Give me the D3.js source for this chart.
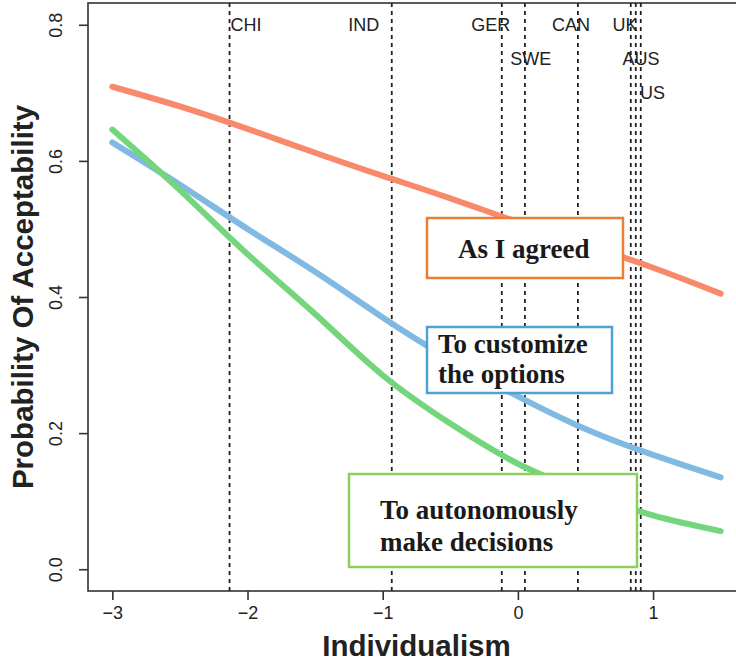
<!DOCTYPE html>
<html>
<head>
<meta charset="utf-8">
<script src="https://cdn.jsdelivr.net/npm/d3@7"></script>
<style>
  body { margin: 0; background: #fff; }
  svg { display: block; }
</style>
</head>
<body>
<div id="chart"></div>
<script>
// Data
var xGrid = [-3, -2.5, -2, -1.5, -1, -0.5, 0, 0.5, 1, 1.5];
var agreedVals = [0.709, 0.680, 0.647, 0.612, 0.578, 0.545, 0.510, 0.477, 0.443, 0.405];
var customizeVals = [0.627, 0.565, 0.500, 0.437, 0.370, 0.308, 0.254, 0.206, 0.168, 0.135];
var autonomousVals = [0.646, 0.557, 0.463, 0.375, 0.285, 0.214, 0.155, 0.113, 0.079, 0.056];

var countries = ["CHI", "IND", "GER", "SWE", "CAN", "UK", "AUS", "US"];
var countryScores = [-2.133, -0.933, -0.119, 0.052, 0.444, 0.835, 0.872, 0.909];
var labelX = [-2.011, -1.141, -0.200, 0.096, 0.393, 0.793, 0.911, 0.996];
var labelY = [0.80, 0.80, 0.80, 0.75, 0.80, 0.80, 0.75, 0.70];

var xTicks = [-3, -2, -1, 0, 1];
var yTicks = [0.0, 0.2, 0.4, 0.6, 0.8];

function init() {
    var w = 736; // Width of the SVG
    var h = 665; // Height of the SVG

    var svg = d3.select("#chart")
        .append("svg")
        .attr("width", w)
        .attr("height", h);

    // R-style scales with 4% padding around the data range
    var xScale = d3.scaleLinear()
        .domain([-3.18, 1.68])
        .range([88, 745]);

    var yScale = d3.scaleLinear()
        .domain([-0.032, 0.832])
        .range([591, 3]);

    // Plot frame
    svg.append("rect")
        .attr("x", xScale.range()[0])
        .attr("y", yScale.range()[1])
        .attr("width", xScale.range()[1] - xScale.range()[0])
        .attr("height", yScale.range()[0] - yScale.range()[1])
        .attr("fill", "none")
        .attr("stroke", "#333")
        .attr("stroke-width", 1.6);

    // Country reference lines
    svg.selectAll("line.country")
        .data(countryScores)
        .enter()
        .append("line")
        .attr("class", "country")
        .attr("x1", function(d) { return xScale(d); })
        .attr("x2", function(d) { return xScale(d); })
        .attr("y1", yScale.range()[1])
        .attr("y2", yScale.range()[0])
        .attr("stroke", "#222")
        .attr("stroke-width", 1.8)
        .attr("stroke-dasharray", "4,4");

    svg.selectAll("text.country")
        .data(countries)
        .enter()
        .append("text")
        .attr("class", "country")
        .attr("x", function(d, i) { return xScale(labelX[i]); })
        .attr("y", function(d, i) { return yScale(labelY[i]); })
        .attr("dy", "0.35em")
        .attr("text-anchor", "middle")
        .attr("font-family", "Liberation Sans, Arial, sans-serif")
        .attr("font-size", 18)
        .attr("fill", "#222")
        .text(function(d) { return d; });

    // Curves
    var series = [
        { vals: agreedVals, color: "#f8896a" },
        { vals: customizeVals, color: "#80b9e1" },
        { vals: autonomousVals, color: "#73d67c" }
    ];

    var line = d3.line()
        .x(function(d) { return xScale(d[0]); })
        .y(function(d) { return yScale(d[1]); })
        .curve(d3.curveNatural);

    svg.selectAll("path.curve")
        .data(series)
        .enter()
        .append("path")
        .attr("class", "curve")
        .attr("d", function(s) {
            return line(xGrid.map(function(x, i) { return [x, s.vals[i]]; }));
        })
        .attr("fill", "none")
        .attr("stroke", function(s) { return s.color; })
        .attr("stroke-width", 6)
        .attr("stroke-linecap", "round");

    // Axes
    var xAxis = d3.axisBottom(xScale)
        .tickValues(xTicks)
        .tickSize(9)
        .tickPadding(6)
        .tickFormat(d3.format("d"));

    var gx = svg.append("g")
        .attr("transform", "translate(0," + yScale.range()[0] + ")")
        .call(xAxis);
    gx.select(".domain").remove();
    gx.selectAll("line").attr("stroke", "#333").attr("stroke-width", 1.6);
    gx.selectAll("text")
        .attr("font-family", "Liberation Sans, Arial, sans-serif")
        .attr("font-size", 18)
        .attr("fill", "#222");

    var yAxis = d3.axisLeft(yScale)
        .tickValues(yTicks)
        .tickSize(9)
        .tickFormat(d3.format(".1f"));

    var gy = svg.append("g")
        .attr("transform", "translate(" + xScale.range()[0] + ",0)")
        .call(yAxis);
    gy.select(".domain").remove();
    gy.selectAll("line").attr("stroke", "#333").attr("stroke-width", 1.6);
    gy.selectAll("text")
        .attr("font-family", "Liberation Sans, Arial, sans-serif")
        .attr("font-size", 18)
        .attr("fill", "#222")
        .attr("x", 0)
        .attr("dy", 0)
        .attr("text-anchor", "middle")
        .attr("transform", "translate(-26,0) rotate(-90)");

    // Axis titles
    svg.append("text")
        .attr("x", (xScale.range()[0] + xScale.range()[1]) / 2)
        .attr("y", 656)
        .attr("text-anchor", "middle")
        .attr("font-family", "Liberation Sans, Arial, sans-serif")
        .attr("font-weight", "bold")
        .attr("font-size", 29.5)
        .attr("fill", "#222")
        .text("Individualism");

    svg.append("text")
        .attr("transform", "translate(33," + (yScale.range()[0] + yScale.range()[1]) / 2 + ") rotate(-90)")
        .attr("text-anchor", "middle")
        .attr("font-family", "Liberation Sans, Arial, sans-serif")
        .attr("font-weight", "bold")
        .attr("font-size", 29.5)
        .attr("fill", "#222")
        .text("Probability Of Acceptability");

    // Annotation boxes
    var boxes = [
        { x: 427, y: 218, w: 196, h: 60, color: "#ea7d35", lines: ["As I agreed"], tx: 458, ty: [258] },
        { x: 427, y: 327, w: 185, h: 66, color: "#4ca2d2", lines: ["To customize", "the options"], tx: 438, ty: [353, 383] },
        { x: 349, y: 474, w: 288, h: 93, color: "#8ccf5c", lines: ["To autonomously", "make decisions"], tx: 380, ty: [519, 551] }
    ];

    boxes.forEach(function(b) {
        svg.append("rect")
            .attr("x", b.x)
            .attr("y", b.y)
            .attr("width", b.w)
            .attr("height", b.h)
            .attr("fill", "#fff")
            .attr("stroke", b.color)
            .attr("stroke-width", 2.5);

        b.lines.forEach(function(t, i) {
            svg.append("text")
                .attr("x", b.tx)
                .attr("y", b.ty[i])
                .attr("font-family", "Liberation Serif, Times New Roman, serif")
                .attr("font-weight", "bold")
                .attr("font-size", 27)
                .attr("fill", "#1a1a1a")
                .text(t);
        });
    });
}

window.onload = init;
</script>
</body>
</html>
